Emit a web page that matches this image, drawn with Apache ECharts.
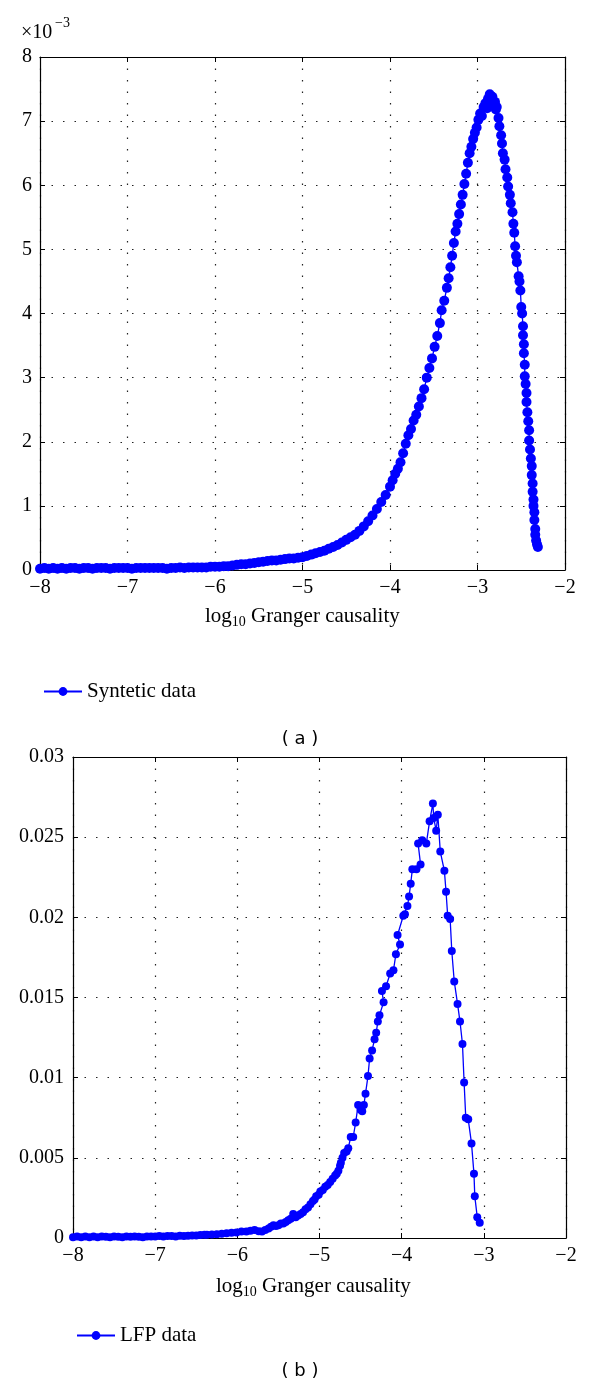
<!DOCTYPE html>
<html lang="en">
<head>
    <meta charset="UTF-8">
    <title>Granger causality distributions</title>
    <script src="https://cdn.jsdelivr.net/npm/echarts@6/dist/echarts.min.js"></script>
    <style>
        body { margin: 0; background: #fff; }
        #chart { width: 600px; height: 1392px; }
    </style>
</head>
<body>
<div id="chart"></div>
<script>
    // (a) synthetic data, y in units of 1e-3
    var synX = [-8.00,-7.95,-7.90,-7.85,-7.80,-7.75,-7.70,-7.65,-7.60,-7.55,-7.50,-7.45,-7.40,-7.35,-7.30,-7.25,-7.20,-7.15,-7.10,-7.05,
        -7.00,-6.95,-6.90,-6.85,-6.80,-6.75,-6.70,-6.65,-6.60,-6.55,-6.52,-6.50,-6.45,-6.40,-6.35,-6.30,-6.25,-6.20,-6.15,-6.10,
        -6.05,-6.00,-5.95,-5.90,-5.85,-5.80,-5.75,-5.70,-5.65,-5.60,-5.55,-5.50,-5.45,-5.40,-5.35,-5.30,-5.25,-5.20,-5.15,-5.10,
        -5.05,-5.00,-4.95,-4.90,-4.85,-4.80,-4.75,-4.70,-4.65,-4.60,-4.55,-4.50,-4.45,-4.40,-4.35,-4.30,-4.25,-4.20,-4.15,-4.10,
        -4.05,-4.00,-3.97,-3.94,-3.91,-3.88,-3.85,-3.82,-3.79,-3.76,-3.73,-3.70,-3.67,-3.64,-3.61,-3.58,-3.55,-3.52,-3.49,-3.46,
        -3.43,-3.41,-3.38,-3.35,-3.33,-3.31,-3.29,-3.27,-3.25,-3.23,-3.21,-3.19,-3.17,-3.15,-3.13,-3.11,-3.09,-3.07,-3.05,-3.03,
        -3.01,-2.99,-2.97,-2.95,-2.93,-2.91,-2.89,-2.88,-2.86,-2.85,-2.83,-2.82,-2.80,-2.79,-2.78,-2.76,-2.75,-2.73,-2.72,-2.71,
        -2.69,-2.68,-2.66,-2.65,-2.63,-2.62,-2.60,-2.59,-2.58,-2.57,-2.56,-2.55,-2.53,-2.52,-2.51,-2.50,-2.49,-2.48,-2.48,-2.47,
        -2.47,-2.46,-2.46,-2.45,-2.44,-2.44,-2.43,-2.42,-2.41,-2.41,-2.40,-2.39,-2.38,-2.38,-2.37,-2.37,-2.36,-2.36,-2.35,-2.35,
        -2.34,-2.34,-2.33,-2.32,-2.31];
    var synY = [0.02,0.03,0.02,0.03,0.02,0.03,0.02,0.03,0.03,0.02,0.03,0.03,0.02,0.03,0.03,0.03,0.02,0.03,0.03,0.03,
        0.03,0.02,0.03,0.03,0.03,0.03,0.03,0.03,0.03,0.02,-0.01,0.03,0.03,0.04,0.03,0.04,0.04,0.04,0.04,0.04,
        0.05,0.05,0.05,0.06,0.06,0.07,0.08,0.09,0.09,0.10,0.11,0.12,0.13,0.14,0.15,0.15,0.16,0.17,0.18,0.18,
        0.19,0.20,0.22,0.24,0.26,0.28,0.30,0.33,0.36,0.39,0.43,0.47,0.51,0.55,0.61,0.68,0.76,0.85,0.95,1.06,
        1.17,1.30,1.40,1.50,1.58,1.68,1.82,1.97,2.10,2.20,2.33,2.42,2.55,2.68,2.82,3.00,3.15,3.30,3.48,3.65,
        3.85,4.05,4.20,4.40,4.55,4.72,4.90,5.10,5.28,5.40,5.55,5.70,5.85,6.02,6.18,6.35,6.50,6.60,6.72,6.82,
        6.90,7.02,7.12,7.08,7.22,7.28,7.20,7.35,7.42,7.30,7.38,7.25,7.30,7.18,7.22,7.05,6.92,6.78,6.65,6.50,
        6.40,6.25,6.12,5.98,5.85,5.72,5.58,5.40,5.26,5.05,4.90,4.80,4.58,4.50,4.36,4.10,4.00,3.80,3.66,3.52,
        3.38,3.20,3.02,2.90,2.76,2.62,2.46,2.32,2.18,2.02,1.88,1.74,1.62,1.48,1.35,1.22,1.10,1.00,0.90,0.78,
        0.64,0.55,0.46,0.40,0.36];

    // (b) LFP data
    var lfpX = [-8.00,-7.95,-7.90,-7.85,-7.80,-7.75,-7.70,-7.65,-7.60,-7.55,-7.50,-7.45,-7.40,-7.35,-7.30,-7.25,-7.20,-7.15,-7.10,-7.05,
        -7.00,-6.95,-6.90,-6.85,-6.80,-6.75,-6.70,-6.65,-6.60,-6.55,-6.50,-6.45,-6.40,-6.37,-6.31,-6.25,-6.19,-6.13,-6.07,-6.01,
        -5.95,-5.89,-5.84,-5.79,-5.74,-5.70,-5.66,-5.62,-5.59,-5.56,-5.53,-5.50,-5.47,-5.44,-5.41,-5.38,-5.35,-5.32,-5.29,-5.26,
        -5.23,-5.20,-5.17,-5.14,-5.11,-5.08,-5.06,-5.04,-5.01,-4.99,-4.96,-4.93,-4.90,-4.87,-4.84,-4.81,-4.79,-4.77,-4.75,-4.74,
        -4.72,-4.70,-4.67,-4.65,-4.62,-4.59,-4.56,-4.53,-4.50,-4.48,-4.46,-4.44,-4.41,-4.39,-4.36,-4.33,-4.31,-4.29,-4.27,-4.22,
        -4.24,-4.19,-4.14,-4.10,-4.07,-4.02,-4.05,-3.98,-3.96,-3.93,-3.91,-3.89,-3.87,-3.82,-3.77,-3.80,-3.75,-3.70,-3.66,-3.62,
        -3.61,-3.58,-3.56,-3.53,-3.48,-3.46,-3.44,-3.41,-3.39,-3.36,-3.32,-3.29,-3.26,-3.24,-3.22,-3.19,-3.15,-3.12,-3.11,-3.08,
        -3.05];
    var lfpY = [0.00005,0.0001,0.00005,0.0001,0.00005,0.0001,0.00005,0.0001,0.00008,0.00005,0.0001,0.00008,0.00005,0.0001,0.00008,0.0001,0.00008,0.00005,0.0001,0.0001,
        0.0001,0.00012,0.0001,0.00012,0.00012,0.0001,0.00014,0.00012,0.00014,0.00015,0.00015,0.00018,0.0002,0.0002,0.00022,0.00023,0.00026,0.0003,0.00032,0.00035,
        0.0004,0.0004,0.00045,0.0005,0.00042,0.0004,0.0005,0.0006,0.0007,0.0008,0.00075,0.0008,0.0009,0.0009,0.001,0.0011,0.0012,0.0015,0.0013,0.0014,
        0.0015,0.0016,0.0018,0.0019,0.0021,0.0023,0.0024,0.0026,0.0027,0.0029,0.0030,0.0032,0.0033,0.0035,0.0037,0.0039,0.0040,0.0042,0.0045,0.0047,
        0.0050,0.0053,0.0054,0.0056,0.0063,0.0063,0.0072,0.0083,0.0080,0.0079,0.0083,0.0090,0.0101,0.0112,0.0117,0.0124,0.0128,0.0135,0.0139,0.0147,
        0.0154,0.0157,0.0165,0.0167,0.0177,0.0183,0.0189,0.0201,0.0202,0.0207,0.0213,0.0221,0.0230,0.0230,0.0233,0.0246,0.0248,0.0246,0.0260,0.0271,
        0.0262,0.0254,0.0264,0.0241,0.0229,0.0216,0.0201,0.0199,0.0179,0.0160,0.0146,0.0135,0.0121,0.0097,0.0075,0.0074,0.0059,0.0040,0.0026,0.0013,
        0.00095];

    var xTicks = [-8, -7, -6, -5, -4, -3, -2];
    var yTicksA = [0, 1, 2, 3, 4, 5, 6, 7, 8];
    var yTicksB = [0, 0.005, 0.01, 0.015, 0.02, 0.025, 0.03];

    function pairs(xs, ys) {
        var out = [];
        for (var i = 0; i < xs.length; i++) out.push([xs[i], ys[i]]);
        return out;
    }
    function minus(v) {
        return String(v).replace('-', '\u2212');
    }

    var serif = '"Liberation Serif", "DejaVu Serif", serif';
    var labelStyle = { color: '#000', fontFamily: serif, fontSize: 20 };
    var gridLine = { show: true, lineStyle: { color: '#222', type: [1.5, 10], width: 1.2 } };
    var blue = '#0000ff';

    function xAxisFor(gi) {
        return [{
            type: 'value', gridIndex: gi, min: xTicks[0], max: xTicks[xTicks.length - 1], interval: 1,
            axisLine: { onZero: false, lineStyle: { color: '#000', width: 1.2 } },
            axisTick: { inside: true, length: 5, lineStyle: { color: '#000' } },
            axisLabel: Object.assign({ margin: 8, formatter: minus }, labelStyle),
            splitLine: gridLine
        }, {
            type: 'value', gridIndex: gi, position: 'top', min: xTicks[0], max: xTicks[xTicks.length - 1], interval: 1,
            axisLine: { onZero: false, lineStyle: { color: '#000', width: 1.2 } },
            axisTick: { inside: true, length: 5, lineStyle: { color: '#000' } },
            axisLabel: { show: false }, splitLine: { show: false }
        }];
    }
    function yAxisFor(gi, max, interval, fmt, margin) {
        return [{
            type: 'value', gridIndex: gi, min: 0, max: max, interval: interval,
            axisLine: { show: true, lineStyle: { color: '#000', width: 1.2 } },
            axisTick: { show: true, inside: true, length: 5, lineStyle: { color: '#000' } },
            axisLabel: Object.assign({ margin: margin, formatter: fmt }, labelStyle),
            splitLine: gridLine
        }, {
            type: 'value', gridIndex: gi, position: 'right', min: 0, max: max, interval: interval,
            axisLine: { show: true, lineStyle: { color: '#000', width: 1.2 } },
            axisTick: { show: true, inside: true, length: 5, lineStyle: { color: '#000' } },
            axisLabel: { show: false }, splitLine: { show: false }
        }];
    }

    var titleRich = {
        n: { fontFamily: serif, fontSize: 21, lineHeight: 26 },
        s: { fontFamily: serif, fontSize: 14, lineHeight: 12, verticalAlign: 'bottom' }
    };

    var chart = echarts.init(document.getElementById('chart'));
    var option = {
        animation: false,
        backgroundColor: '#fff',
        grid: [
            { left: 40, top: 57, width: 525, height: 513 },
            { left: 73, top: 757, width: 493, height: 481 }
        ],
        xAxis: xAxisFor(0).concat(xAxisFor(1)),
        yAxis: yAxisFor(0, yTicksA[yTicksA.length - 1], 1, function (v) { return String(v); }, 8)
            .concat(yAxisFor(1, yTicksB[yTicksB.length - 1], 0.005, function (v) { return String(+v.toFixed(3)); }, 9)),
        legend: [
            {
                data: ['Syntetic data'], left: 38, top: 676, itemWidth: 38, itemHeight: 11, itemGap: 6,
                textStyle: { color: '#000', fontFamily: serif, fontSize: 21 }
            },
            {
                data: ['LFP data'], left: 71, top: 1320, itemWidth: 38, itemHeight: 11, itemGap: 6,
                textStyle: { color: '#000', fontFamily: serif, fontSize: 21 }
            }
        ],
        series: [
            {
                name: 'Syntetic data', type: 'line', xAxisIndex: 0, yAxisIndex: 0,
                data: pairs(synX, synY), symbol: 'circle', symbolSize: 10,
                itemStyle: { color: blue }, lineStyle: { color: blue, width: 1.3 }
            },
            {
                name: 'LFP data', type: 'line', xAxisIndex: 2, yAxisIndex: 2,
                data: pairs(lfpX, lfpY), symbol: 'circle', symbolSize: 8,
                itemStyle: { color: blue }, lineStyle: { color: blue, width: 1.3 }
            }
        ],
        graphic: [
            { type: 'text', left: 21, top: 23, style: { text: '\u00d710', font: '20px ' + serif, fill: '#000' } },
            { type: 'text', left: 55, top: 16, style: { text: '\u22123', font: '14px ' + serif, fill: '#000' } },
            {
                type: 'text', left: 205, top: 606,
                style: { text: '{n|log}{s|10}{n| Granger causality}', fill: '#000', rich: titleRich }
            },
            {
                type: 'text', left: 216, top: 1276,
                style: { text: '{n|log}{s|10}{n| Granger causality}', fill: '#000', rich: titleRich }
            },
            { type: 'text', left: 'center', top: 730, style: { text: '( a )', font: '18px "DejaVu Sans", sans-serif', fill: '#000' } },
            { type: 'text', left: 'center', top: 1362, style: { text: '( b )', font: '18px "DejaVu Sans", sans-serif', fill: '#000' } }
        ]
    };
    chart.setOption(option);
</script>
</body>
</html>
